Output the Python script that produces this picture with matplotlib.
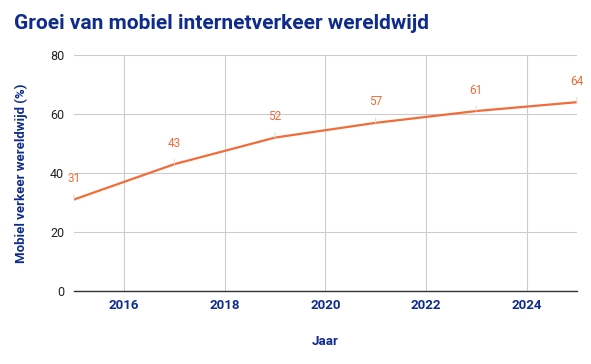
import matplotlib
matplotlib.use("Agg")
from matplotlib import pyplot as plt

# data
years = [2015, 2017, 2019, 2021, 2023, 2025]
share = [31, 43, 52, 57, 61, 64]
xticks = [2016, 2018, 2020, 2022, 2024]
yticks = [0, 20, 40, 60, 80]

blue = '#0f2b8c'
orange = '#f26b38'

plt.rcParams['font.family'] = ['Roboto', 'DejaVu Sans']

fig = plt.figure(figsize=(5.91, 3.64), dpi=100)
ax = fig.add_axes([0.125, 0.2005, 0.851, 0.6485])

ax.plot(years, share, color=orange, linewidth=1.6, zorder=3)

# value labels with small leader lines
for x, y in zip(years, share):
    ax.annotate(str(y), xy=(x, y), xytext=(0, 15), textcoords='offset points',
                ha='center', va='center', color=orange, fontsize=8.5,
                arrowprops=dict(arrowstyle='-', color='#dddddd', lw=0.8,
                                shrinkA=5, shrinkB=0))

ax.set_xlim(2015, 2025)
ax.set_ylim(0, 80)
ax.set_xticks(xticks)
ax.set_yticks(yticks)
ax.set_xticklabels([str(t) for t in xticks], color=blue, fontweight='bold', fontsize=9.5)
ax.set_yticklabels([str(t) for t in yticks], color='#222222', fontsize=9)
ax.tick_params(length=0, pad=6)
ax.tick_params(axis='y', pad=7)

ax.grid(True, color='#cccccc', linewidth=0.8)
ax.set_axisbelow(True)
for s in ['top', 'right', 'left']:
    ax.spines[s].set_visible(False)
ax.spines['bottom'].set_color('#333333')
ax.spines['bottom'].set_linewidth(1.0)

ax.set_xlabel('Jaar', color=blue, fontweight='bold', fontsize=9.5, labelpad=16)
ax.set_ylabel('Mobiel verkeer wereldwijd (%)', color=blue, fontweight='bold', fontsize=9.5, labelpad=16)

fig.text(0.024, 0.935, 'Groei van mobiel internetverkeer wereldwijd', color=blue,
         fontweight='bold', fontsize=15, va='center', ha='left')

fig.savefig('out.png', dpi=100)
